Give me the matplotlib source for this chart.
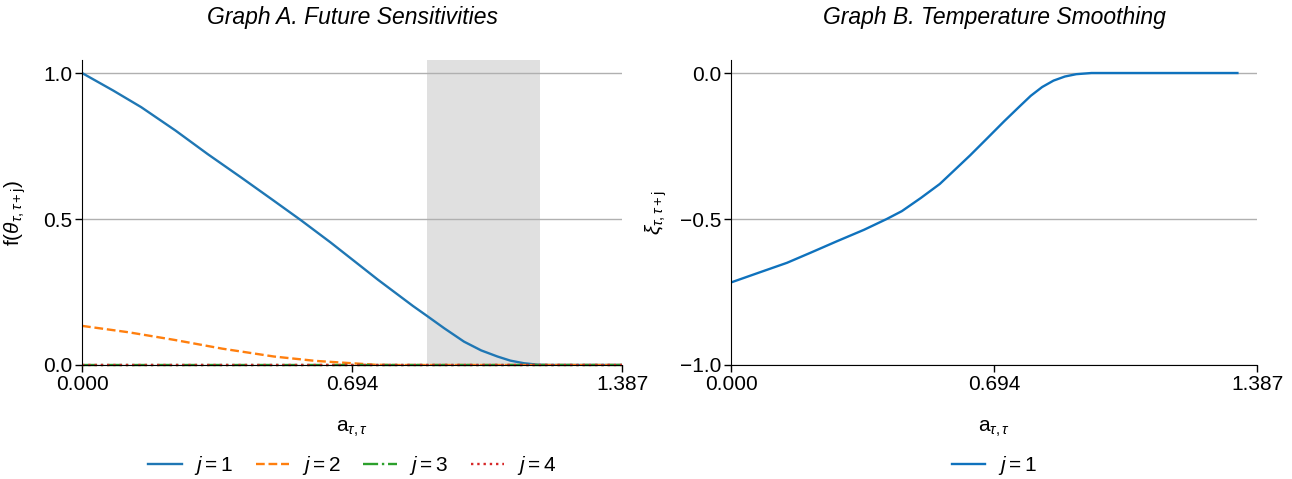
import numpy as np
import matplotlib.pyplot as plt

# Graph A: future sensitivities f(theta) for j = 1..4
a_j1 = [0.0, 0.08, 0.152, 0.24, 0.323, 0.41, 0.49, 0.562, 0.638, 0.70, 0.76,
        0.81, 0.85, 0.885, 0.93, 0.981, 1.025, 1.067, 1.10, 1.135, 1.17, 1.20, 1.387]
f_j1 = [1.0, 0.94, 0.883, 0.803, 0.722, 0.641, 0.565, 0.496, 0.420, 0.355, 0.292,
        0.242, 0.202, 0.169, 0.126, 0.080, 0.050, 0.029, 0.015, 0.006, 0.001, 0.0, 0.0]
a_j2 = [0.0, 0.12, 0.237, 0.36, 0.493, 0.6, 0.694, 0.75, 0.8, 1.387]
f_j2 = [0.134, 0.112, 0.086, 0.056, 0.029, 0.014, 0.006, 0.001, 0.0, 0.0]
a_j34 = [0.0, 1.387]
f_j3 = [0.0, 0.0]
f_j4 = [0.0, 0.0]
shade = (0.885, 1.177)

# Graph B: temperature smoothing xi
a_b = [0.0, 0.07, 0.147, 0.21, 0.279, 0.35, 0.41, 0.45, 0.50, 0.55, 0.586, 0.63,
       0.674, 0.72, 0.76, 0.79, 0.82, 0.85, 0.88, 0.91, 0.95, 1.1, 1.335]
xi_b = [-0.717, -0.685, -0.650, -0.615, -0.576, -0.537, -0.50, -0.473, -0.428,
        -0.38, -0.336, -0.282, -0.225, -0.165, -0.115, -0.078, -0.048, -0.026,
        -0.012, -0.004, 0.0, 0.0, 0.0]

xticks = [0.0, 0.694, 1.387]
xlabels = ["0.000", "0.694", "1.387"]

plt.rcParams['font.family'] = ['Liberation Sans', 'DejaVu Sans']
plt.rcParams['mathtext.fontset'] = 'custom'
plt.rcParams['mathtext.rm'] = 'Liberation Sans'
plt.rcParams['mathtext.it'] = 'Liberation Sans:italic'
plt.rcParams['mathtext.bf'] = 'Liberation Sans:bold'

fig = plt.figure(figsize=(12.92, 4.79), dpi=100)
ax1 = fig.add_axes([0.0635, 0.238, 0.418, 0.637])
ax2 = fig.add_axes([0.566, 0.238, 0.407, 0.637])

ax1.axvspan(shade[0], shade[1], color='#e0e0e0', lw=0, zorder=0)
ax1.plot(a_j1, f_j1, color='#1f77b4', lw=1.7, label='$j = 1$')
ax1.plot(a_j2, f_j2, color='#ff7f0e', lw=1.7, ls='--', label='$j = 2$')
ax1.plot(a_j34, f_j3, color='#2ca02c', lw=1.7, ls='-.', label='$j = 3$', clip_on=False)
ax1.plot(a_j34, f_j4, color='#d62728', lw=1.7, ls=':', label='$j = 4$', clip_on=False)
ax1.set_ylim(0, 1.045)
ax1.set_yticks([0.0, 0.5, 1.0])
ax1.set_ylabel(r'f($\theta_{\tau,\tau+\mathrm{j}}$)', fontsize=15, labelpad=11)
ax1.set_title('Graph A. Future Sensitivities', fontsize=16.5, style='italic', pad=26)
ax1.legend(loc='center', bbox_to_anchor=(0.5, -0.33), ncol=4, frameon=False,
           fontsize=15, handlelength=1.6, columnspacing=1.1, handletextpad=0.6)

ax2.plot(a_b, xi_b, color='#0f72bd', lw=1.7, label='$j = 1$')
ax2.set_ylim(-1.0, 0.045)
ax2.set_yticks([-1.0, -0.5, 0.0])
ax2.set_yticklabels(['\u22121.0', '\u22120.5', '0.0'])
ax2.set_ylabel(r'$\xi_{\tau,\tau+\mathrm{j}}$', fontsize=15, labelpad=8)
ax2.set_title('Graph B. Temperature Smoothing', fontsize=16.5, style='italic', pad=26)
ax2.legend(loc='center', bbox_to_anchor=(0.5, -0.33), ncol=1, frameon=False,
           fontsize=15, handlelength=1.6, handletextpad=0.6)

for ax in (ax1, ax2):
    ax.set_xlim(0, 1.387)
    ax.set_xticks(xticks)
    ax.set_xticklabels(xlabels)
    ax.set_xlabel(r'a$_{\tau,\tau}$', fontsize=15, labelpad=18)
    ax.tick_params(labelsize=15, length=5, width=1, pad=2)
    ax.grid(axis='y', color='#b0b0b0', lw=1)
    ax.set_axisbelow(True)
    ax.spines['top'].set_visible(False)
    ax.spines['right'].set_visible(False)

fig.savefig('out.png', dpi=100)
